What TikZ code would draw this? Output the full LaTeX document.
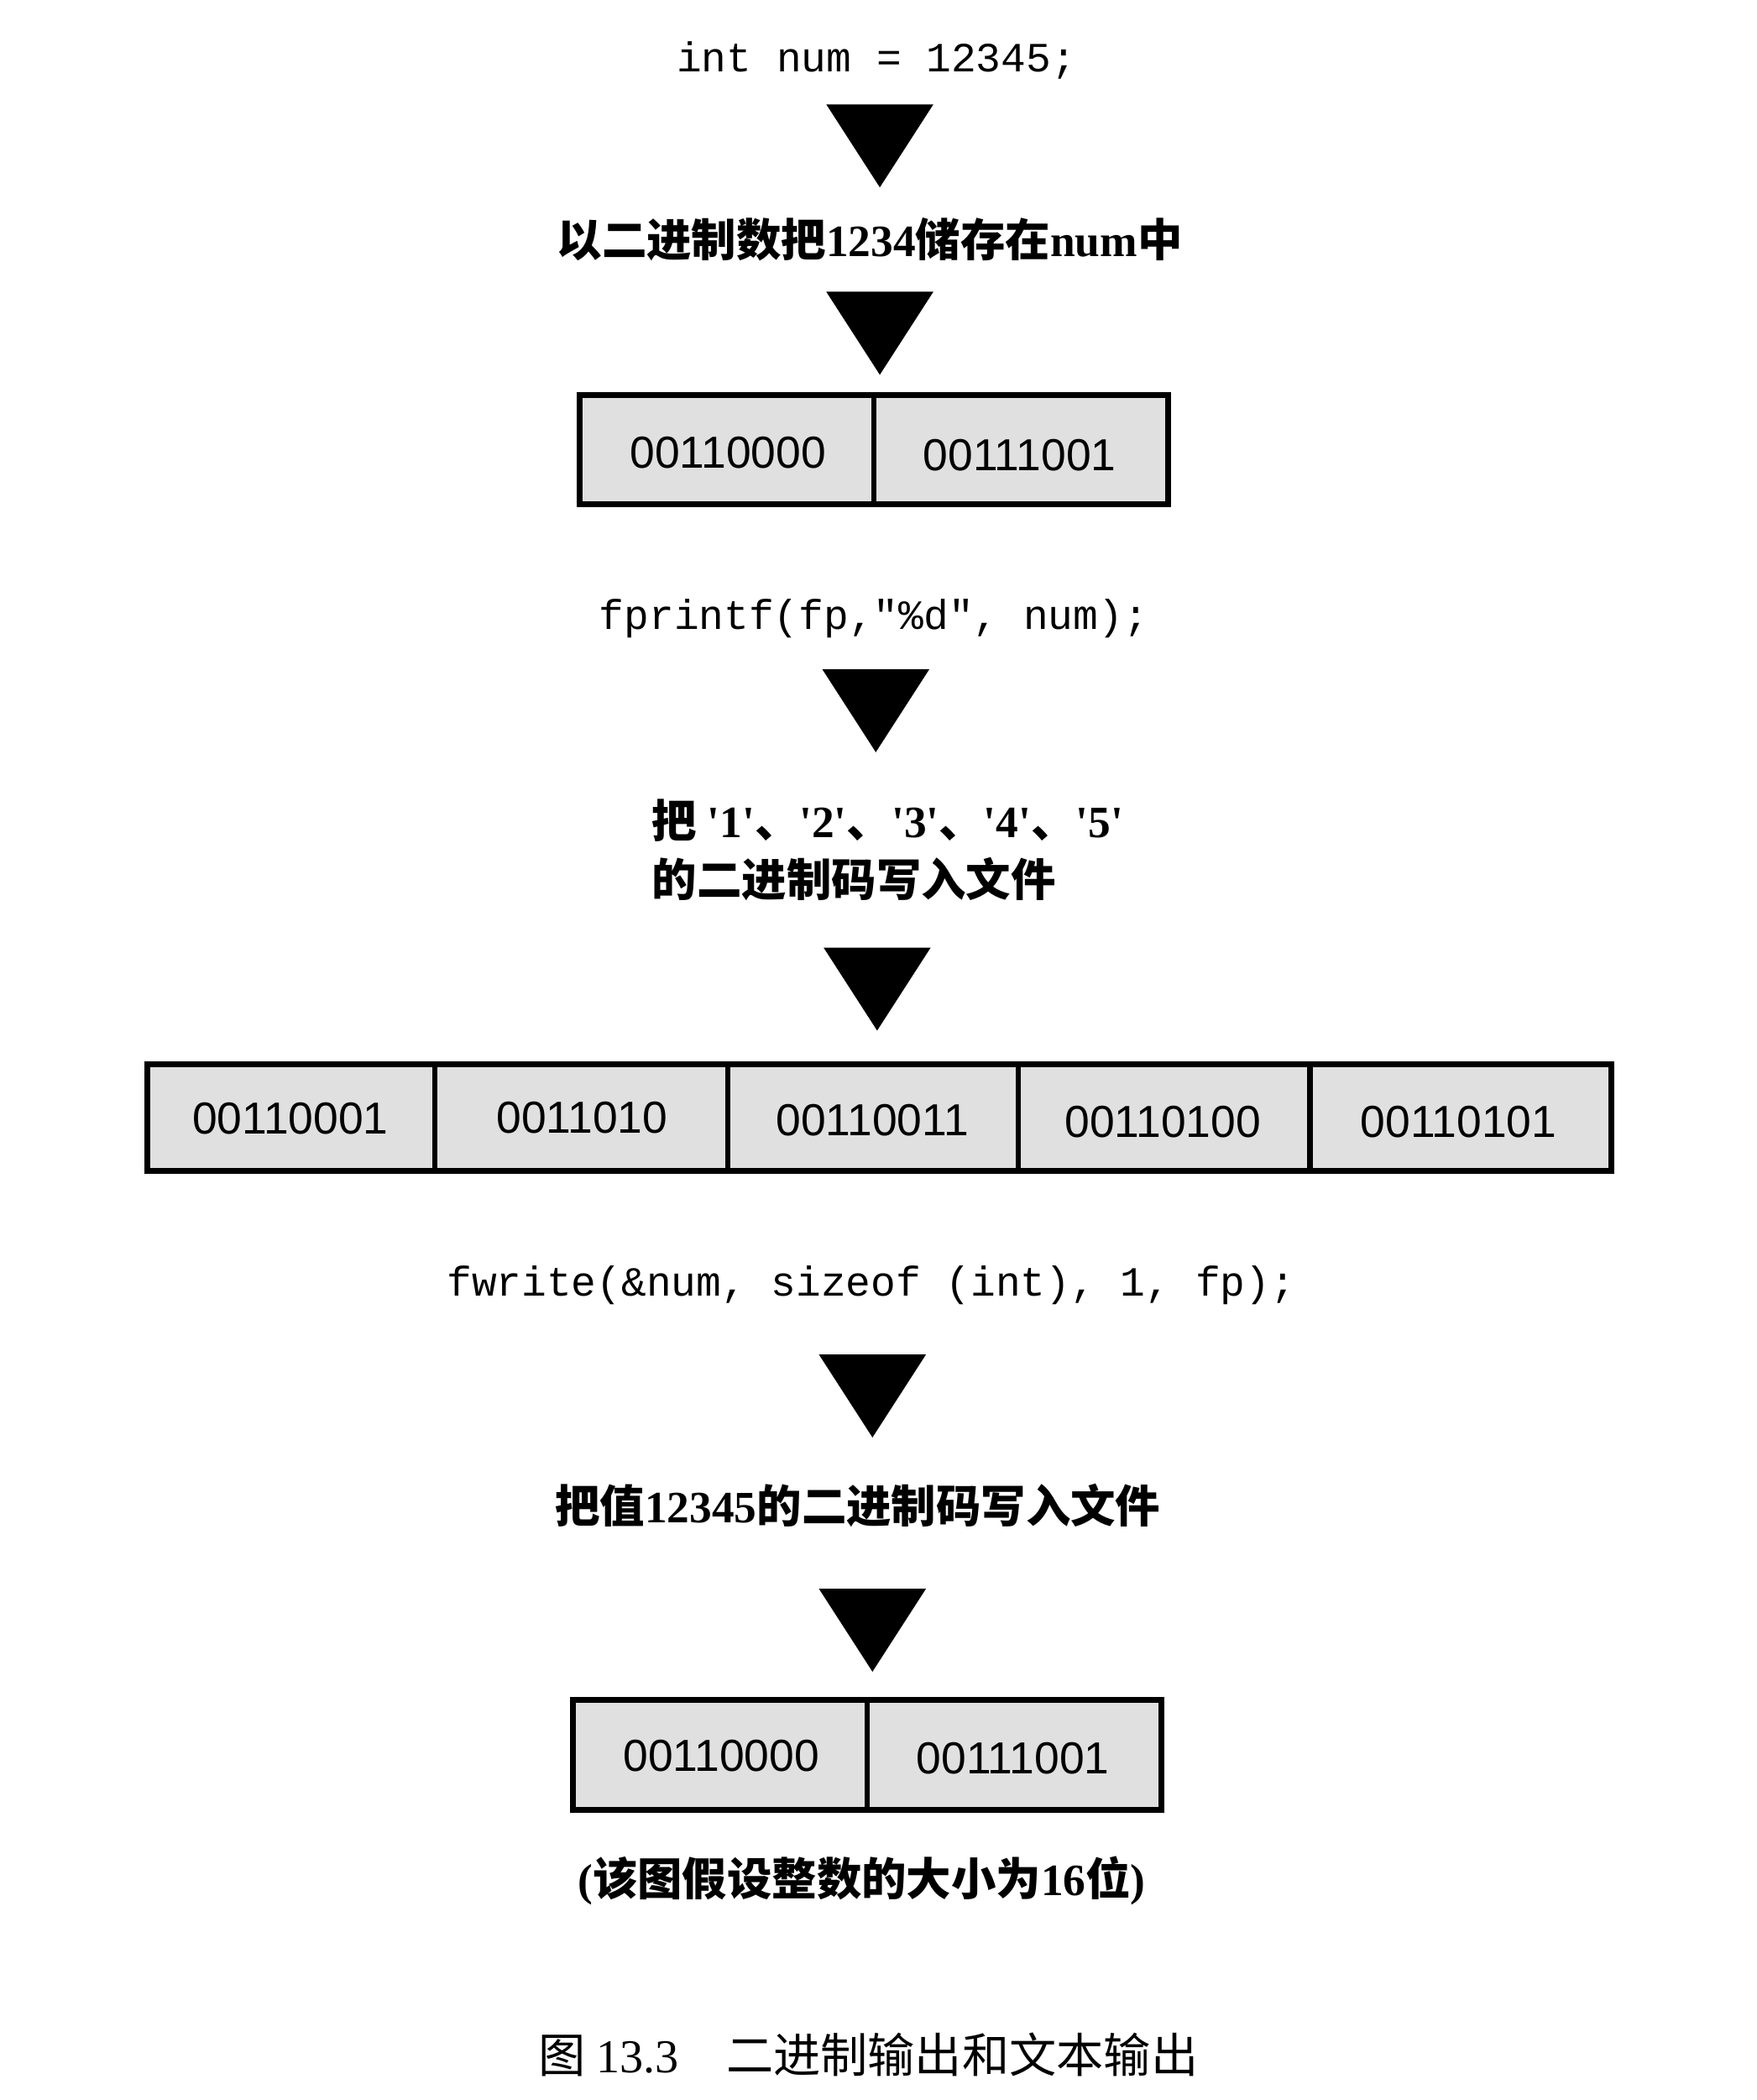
\documentclass[tikz,border=0pt]{standalone}
\usepackage{fontspec}
\setmainfont{Liberation Serif}
\newfontfamily\cjk{Noto Sans CJK SC}
\newfontfamily\latf{Liberation Serif}
\newfontfamily\monof{Liberation Mono}
\newfontfamily\sansf{Liberation Sans}
\newcommand\lt[1]{{\latf #1}}
\begin{document}
\begin{tikzpicture}[x=0.01594cm,y=-0.01594cm,
  code/.style={font=\monof\fontsize{14.1}{17}\selectfont, inner sep=0pt},
  zh/.style={font=\cjk\bfseries\fontsize{15.2}{19.9}\selectfont, inner sep=0pt},
  captext/.style={font=\cjk\fontsize{16}{20}\selectfont, inner sep=0pt},
  bits/.style={font=\sansf\fontsize{15.2}{18}\selectfont, inner sep=0pt},
  boxline/.style={draw=black, line width=2pt, fill=gray!24},
  divline/.style={draw=black, line width=1.8pt},
  tri/.style={fill=black}]
\useasboundingbox (0,0) rectangle (1313,1569);
\fill[white] (0,0) rectangle (1313,1569);

% texts
\node[code] (t1) at (655,45) {int num = 12345;};
\node[zh] (t2) at (650,179) {以二进制数把\lt{1234}储存在\lt{num}中};
\node[code] (t3) at (653,462) {fprintf(fp,"\%d", num);};
\node[zh, align=left, anchor=west] (t4) at (487,635) {把 \lt{'1'}、\lt{'2'}、\lt{'3'}、\lt{'4'}、\lt{'5'}\\的二进制码写入文件};
\node[code] (t5) at (651,960) {fwrite(\&num, sizeof (int), 1, fp);};
\node[zh] (t6) at (641,1125) {把值\lt{12345}的二进制码写入文件};
\node[zh] (t7) at (644,1405) {\lt{(}该图假设整数的大小为\lt{16}位\lt{)}};
\node[captext] (caption) at (649,1535) {图 \lt{13.3}\hspace{1em}二进制输出和文本输出};

% triangles
\coordinate (a1) at (657.5,78);
\coordinate (a2) at (657.5,218);
\coordinate (a3) at (654.5,500);
\coordinate (a4) at (655.5,708);
\coordinate (a5) at (652,1012);
\coordinate (a6) at (652,1187);
\foreach \a in {a1,a2,a3,a4,a5,a6}{
  \fill[tri] (\a) ++(-40,0) -- ++(80,0) -- ++(-40,62) -- cycle;
}

% box 1
\draw[boxline] (433,295) rectangle (873,377);
\draw[divline] (653,295) -- (653,377);
\node[bits] (b11) at (544,338) {00110000};
\node[bits] (b12) at (762,340) {00111001};

% box 2
\draw[boxline] (110,795) rectangle (1204,875);
\foreach \xx in {325,544,761,979}{\draw[divline] (\xx,795) -- (\xx,875);}
\node[bits] (b21) at (217,836) {00110001};
\node[bits] (b22) at (435,835) {0011010};
\node[bits] (b23) at (652,837) {00110011};
\node[bits] (b24) at (869,838) {00110100};
\node[bits] (b25) at (1090,838) {00110101};

% box 3
\draw[boxline] (428,1270) rectangle (868,1352);
\draw[divline] (648,1270) -- (648,1352);
\node[bits] (b31) at (539,1312) {00110000};
\node[bits] (b32) at (757,1314) {00111001};
\end{tikzpicture}
\end{document}
